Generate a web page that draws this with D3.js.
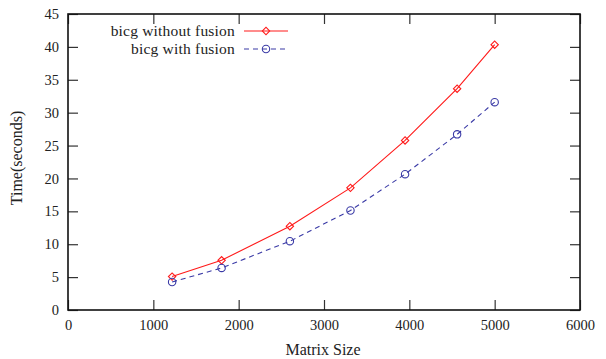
<!DOCTYPE html>
<html>
<head>
<meta charset="utf-8">
<script src="https://cdn.jsdelivr.net/npm/d3@7"></script>
<style>
  body { margin: 0; background: #fff; }
  svg text { font-family: "Liberation Serif", "DejaVu Serif", serif; font-size: 16px; fill: #222; }
  svg .tick text { font-size: 14.5px; }
  svg .legend text { font-size: 15.5px; letter-spacing: 0.2px; }
</style>
</head>
<body>
<svg id="chart" width="606" height="359"></svg>
<script>
  // matrix sizes and timings
  let sizes = [1220, 1800, 2600, 3310, 3950, 4560, 5000]
  let noFusion = [5.08, 7.56, 12.74, 18.57, 25.78, 33.64, 40.33]
  let withFusion = [4.26, 6.39, 10.46, 15.13, 20.65, 26.7, 31.6]
  let xTicks = [0, 1000, 2000, 3000, 4000, 5000, 6000]
  let yTicks = [0, 5, 10, 15, 20, 25, 30, 35, 40, 45]
  let seriesNames = ["bicg without fusion", "bicg with fusion"]

  let plotL = 68, plotR = 580, plotT = 14, plotB = 310

  let svg = d3.select("#chart")

  let scX = d3.scaleLinear().domain([0, 6000]).range([plotL, plotR])
  let scY = d3.scaleLinear().domain([0, 45]).range([plotB, plotT])

  // inward ticks on all four sides (gnuplot mirror style)
  let tk = 10
  let fmt = d3.format("d")
  svg.append("g").attr("transform", `translate(0,${plotB})`)
     .call(d3.axisBottom(scX).tickValues(xTicks).tickFormat(fmt).tickSizeInner(-tk).tickSizeOuter(0).tickPadding(10))
  svg.append("g").attr("transform", `translate(0,${plotT})`)
     .call(d3.axisTop(scX).tickValues(xTicks).tickSizeInner(-tk).tickSizeOuter(0).tickFormat(""))
  svg.append("g").attr("transform", `translate(${plotL},0)`)
     .call(d3.axisLeft(scY).tickValues(yTicks).tickFormat(fmt).tickSizeInner(-tk).tickSizeOuter(0).tickPadding(9))
  svg.append("g").attr("transform", `translate(${plotR},0)`)
     .call(d3.axisRight(scY).tickValues(yTicks).tickSizeInner(-tk).tickSizeOuter(0).tickFormat(""))

  svg.selectAll("g").attr("font-family", null).attr("font-size", null)
  svg.selectAll(".domain").remove()
  svg.selectAll(".tick line").attr("stroke", "#333").attr("stroke-width", 1.2)
  svg.selectAll(".tick text").attr("fill", "#222")

  svg.append("rect")
     .attr("x", plotL).attr("y", plotT)
     .attr("width", plotR - plotL).attr("height", plotB - plotT)
     .attr("fill", "none").attr("stroke", "#111").attr("stroke-width", 1.6)

  let line = d3.line().x(d => scX(d[0])).y(d => scY(d[1]))
  let red = "#ff1a1a", blue = "#3a3aa6"

  let redPts = sizes.map((s, i) => [s, noFusion[i]])
  let bluePts = sizes.map((s, i) => [s, withFusion[i]])

  svg.append("path").attr("d", line(redPts))
     .attr("fill", "none").attr("stroke", red).attr("stroke-width", 1.1)
  svg.append("path").attr("d", line(bluePts))
     .attr("fill", "none").attr("stroke", blue).attr("stroke-width", 1.1)
     .attr("stroke-dasharray", "5,4")

  let diamond = d3.symbol().type(d3.symbolSquare).size(27)

  function drawDiamond(g, x, y) {
    g.append("path").attr("d", diamond())
     .attr("transform", `translate(${x},${y}) rotate(45)`)
     .attr("fill", "none").attr("stroke", red).attr("stroke-width", 1.1)
  }
  function drawCircle(g, x, y) {
    g.append("circle").attr("cx", x).attr("cy", y).attr("r", 3.7)
     .attr("fill", "none").attr("stroke", blue).attr("stroke-width", 1.1)
  }

  let marks = svg.append("g")
  redPts.forEach(d => drawDiamond(marks, scX(d[0]), scY(d[1])))
  bluePts.forEach(d => drawCircle(marks, scX(d[0]), scY(d[1])))

  // legend
  let lg = svg.append("g").attr("class", "legend")
  let rows = [31, 49]
  lg.append("text").attr("x", 235).attr("y", rows[0]).attr("dy", "0.32em")
    .attr("text-anchor", "end").text(seriesNames[0])
  lg.append("text").attr("x", 235).attr("y", rows[1]).attr("dy", "0.32em")
    .attr("text-anchor", "end").text(seriesNames[1])
  lg.append("line").attr("x1", 244).attr("x2", 288).attr("y1", rows[0]).attr("y2", rows[0])
    .attr("stroke", red).attr("stroke-width", 1.1)
  drawDiamond(lg, 266, rows[0])
  lg.append("line").attr("x1", 244).attr("x2", 288).attr("y1", rows[1]).attr("y2", rows[1])
    .attr("stroke", blue).attr("stroke-width", 1.1).attr("stroke-dasharray", "5,4")
  drawCircle(lg, 266, rows[1])

  // axis titles
  svg.append("text").attr("x", 323).attr("y", 355).attr("text-anchor", "middle").text("Matrix Size")
  svg.append("text").attr("transform", "translate(17,158) rotate(-90)").attr("dy", "0.32em")
     .attr("text-anchor", "middle").text("Time(seconds)")
</script>
</body>
</html>
